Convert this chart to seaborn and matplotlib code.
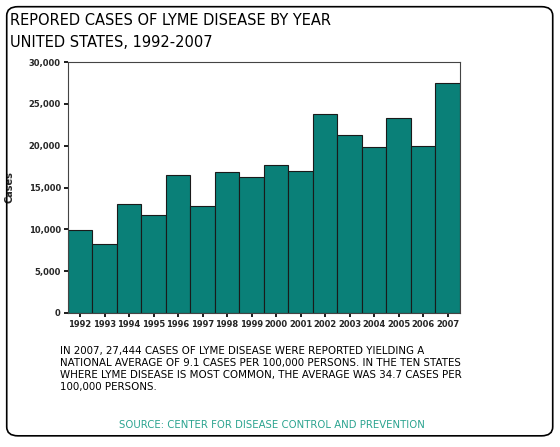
import matplotlib
matplotlib.use("Agg")
import matplotlib.pyplot as plt
import seaborn as sns
import pandas as pd
from matplotlib.patches import FancyBboxPatch

years = [str(y) for y in range(1992, 2008)]
cases = [9909, 8257, 13043, 11700, 16455, 12801, 16801, 16273, 17730, 17029,
         23763, 21273, 19804, 23305, 19931, 27444]
yticks = [0, 5000, 10000, 15000, 20000, 25000, 30000]

sns.set_theme(style="white")
plt.rcParams['font.family'] = ['DejaVu Sans']
fig = plt.figure(figsize=(5.6, 4.47), dpi=100)
fig.patches.append(FancyBboxPatch((0.012, 0.025), 0.975, 0.96, boxstyle="round,pad=0,rounding_size=0.02",
                                  transform=fig.transFigure, fill=False, ec="black", lw=1.2))
ax = fig.add_axes([0.121, 0.300, 0.70, 0.561])
df = pd.DataFrame({"year": years, "cases": cases})
sns.barplot(data=df, x="year", y="cases", color="#0a8078", saturation=1, width=1.0,
            edgecolor="#1a1a1a", linewidth=0.8, ax=ax)
ax.set_ylim(0, 30000)
ax.set_yticks(yticks)
ax.set_yticklabels([f"{v:,}" for v in yticks], fontsize=6, fontweight="bold")
ax.set_xticklabels(years, fontsize=6, fontweight="bold")
ax.set_xlabel("")
ax.set_ylabel("Cases", fontsize=7, fontweight="bold", labelpad=10)
ax.tick_params(axis="both", length=3, color="black", bottom=True, left=True, pad=2)
for s in ax.spines.values():
    s.set_color("#444444"); s.set_linewidth(0.8)

fig.text(0.018, 0.955, "REPORED CASES OF LYME DISEASE BY YEAR", fontsize=10.5, va="center", color="black")
fig.text(0.018, 0.905, "UNITED STATES, 1992-2007", fontsize=10.5, va="center", color="black")
fig.text(0.107, 0.225, "IN 2007, 27,444 CASES OF LYME DISEASE WERE REPORTED YIELDING A\n"
         "NATIONAL AVERAGE OF 9.1 CASES PER 100,000 PERSONS. IN THE TEN STATES\n"
         "WHERE LYME DISEASE IS MOST COMMON, THE AVERAGE WAS 34.7 CASES PER\n"
         "100,000 PERSONS.", fontsize=7.4, va="top", linespacing=1.25, color="black")
fig.text(0.485, 0.05, "SOURCE: CENTER FOR DISEASE CONTROL AND PREVENTION", fontsize=7.3,
         color="#2aa38f", ha="center", va="center")
fig.savefig("out.png", dpi=100)
